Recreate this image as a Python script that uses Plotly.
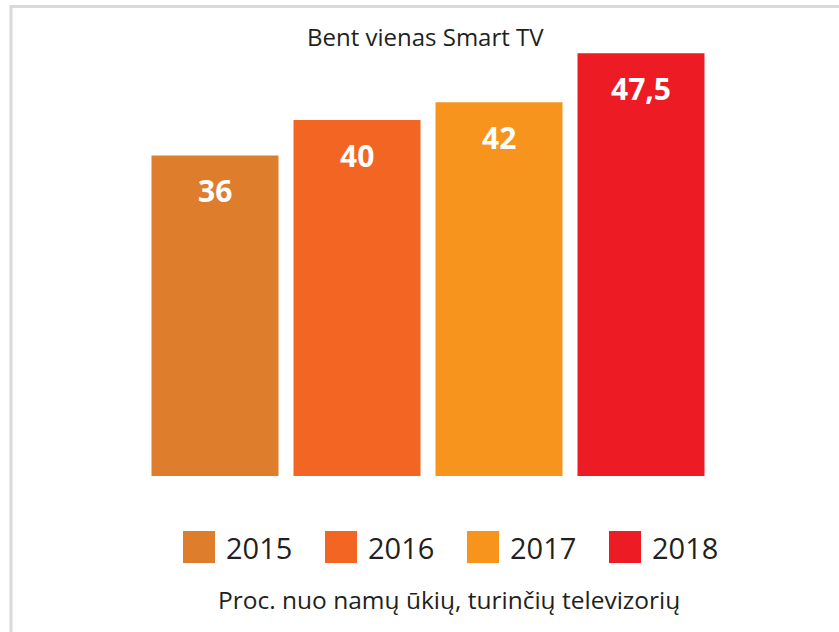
import plotly.graph_objects as go

# ---- data ----
years = ["2015", "2016", "2017", "2018"]
values = [36, 40, 42, 47.5]
value_labels = ["36", "40", "42", "47,5"]
colors = ["#DE7E2D", "#F26522", "#F7941D", "#ED1C24"]
title_text = "Bent vienas Smart TV"
subtitle_text = "Proc. nuo namų ūkių, turinčių televizorių"

# ---- layout geometry (pixels) ----
W, H = 839, 632
L, R, T, B = 144, 127, 31, 156
pw = W - L - R
ph = H - T - B
FONT = "Open Sans"
TXT = "#231F20"


def px(x):
    return (x - L) / pw


def py(y):
    return (H - B - y) / ph


fig = go.Figure(
    go.Bar(
        x=list(range(len(years))),
        y=values,
        marker=dict(color=colors, line=dict(width=0)),
        width=127 / 142,
        showlegend=False,
        hoverinfo="skip",
    )
)

annotations = []
shapes = []

# value labels inside bars
for i, (v, lab) in enumerate(zip(values, value_labels)):
    annotations.append(dict(
        x=i, y=v, xref="x", yref="y", text=f"<b>{lab}</b>", showarrow=False,
        yanchor="middle", xanchor="center", yshift=-35,
        font=dict(family=FONT, size=30, color="white"),
    ))

# custom legend (big squares)
for i, (yr, c) in enumerate(zip(years, colors)):
    shapes.append(dict(
        type="rect", xref="x", yref="paper",
        x0=i - 32 / 142, x1=i, y0=py(563), y1=py(531),
        fillcolor=c, line=dict(width=0),
    ))
    annotations.append(dict(
        x=i + 9 / 142, y=py(547), xref="x", yref="paper", text=yr,
        showarrow=False, xanchor="left", yanchor="middle",
        font=dict(family=FONT, size=29, color=TXT),
    ))

# title & subtitle
annotations.append(dict(
    x=px(425.5), y=py(36), xref="paper", yref="paper", text=title_text,
    showarrow=False, xanchor="center", yanchor="middle",
    font=dict(family=FONT, size=24, color=TXT),
))
annotations.append(dict(
    x=px(448.5), y=py(599), xref="paper", yref="paper", text=subtitle_text,
    showarrow=False, xanchor="center", yanchor="middle",
    font=dict(family=FONT, size=24.5, color=TXT),
))

# frame (top and left edges visible)
shapes.append(dict(
    type="rect", xref="paper", yref="paper",
    x0=px(11), x1=px(950), y0=py(750), y1=py(6.5),
    line=dict(color="#D9D9D9", width=3), fillcolor="rgba(0,0,0,0)", layer="below",
))

fig.update_layout(
    width=W, height=H,
    margin=dict(l=L, r=R, t=T, b=B, pad=0),
    paper_bgcolor="white", plot_bgcolor="white",
    xaxis=dict(visible=False, range=[-0.5, 3.5], fixedrange=True),
    yaxis=dict(visible=False, range=[0, 50], fixedrange=True),
    annotations=annotations, shapes=shapes,
    showlegend=False,
)

fig.write_html(
    "out.html",
    config={"displayModeBar": False},
    post_script="document.body.style.margin='0';document.body.style.overflow='hidden';",
)
